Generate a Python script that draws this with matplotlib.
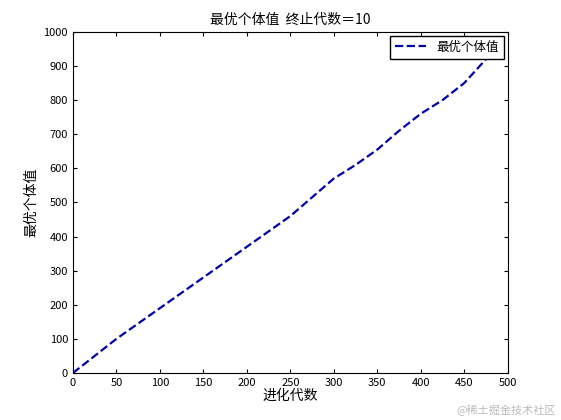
import matplotlib
matplotlib.use('Agg')
import matplotlib.pyplot as plt

plt.rcParams['font.family'] = ['Noto Sans CJK SC', 'DejaVu Sans']

# values
gen = [0, 25, 50, 75, 100, 125, 150, 175, 200, 225, 250, 275, 300, 325,
       350, 375, 400, 425, 450, 475, 490]
best = [0, 50, 100, 145, 190, 235, 280, 325, 370, 415, 460, 515, 570, 610,
        655, 710, 760, 800, 850, 920, 960]

fig = plt.figure(figsize=(5.61, 4.20), dpi=100)
ax = fig.add_axes([0.130, 0.112, 0.775, 0.812])
ax.plot(gen, best, '--', color='#0000aa', lw=1.6, label='最优个体值')
ax.set_xlim(0, 500)
ax.set_ylim(0, 1000)
ax.set_xticks(range(0, 501, 50))
ax.set_yticks(range(0, 1001, 100))
ax.tick_params(direction='in', labelsize=8, length=3, top=True, right=True)
ax.set_xlabel('进化代数', fontsize=10, labelpad=1)
ax.set_ylabel('最优个体值', fontsize=10)
ax.set_title('最优个体值  终止代数＝10', fontsize=10)
ax.legend(loc='upper right', fontsize=9, fancybox=False, framealpha=1,
          edgecolor='black', borderaxespad=0.3, handlelength=2.5)
fig.text(0.99, 0.01, '@稀土掘金技术社区', ha='right', va='bottom',
         fontsize=8, color='#bbbbbb')
fig.savefig('out.png', dpi=100)
